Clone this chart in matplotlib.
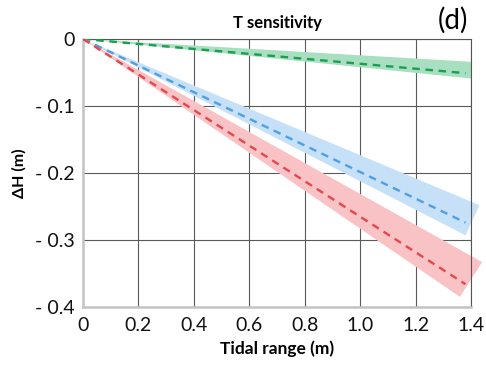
import numpy as np
import matplotlib.pyplot as plt

plt.rcParams['font.family'] = ['Lato', 'DejaVu Sans']

# tidal range (m) and sea-level change dH (m) along the dashed centre lines
tidal_range = [0.0, 1.38]
dh_green = [0.0, -0.051]
dh_blue = [0.0, -0.274]
dh_red = [0.0, -0.366]

# uncertainty bands: (x, y) of upper and lower corner at the far end
band_green = [(1.4, -0.034), (1.4, -0.059)]
band_blue = [(1.43, -0.248), (1.38, -0.293)]
band_red = [(1.44, -0.333), (1.36, -0.385)]

xticks = [0, 0.2, 0.4, 0.6, 0.8, 1.0, 1.2, 1.4]
xtick_labels = ['0', '0.2', '0.4', '0.6', '0.8', '1.0', '1.2', '1.4']
yticks = [0, -0.1, -0.2, -0.3, -0.4]
ytick_labels = ['0', '- 0.1', '- 0.2', '- 0.3', '- 0.4']

fig = plt.figure(figsize=(4.86, 3.70), dpi=100)
ax = fig.add_axes([0.1708, 0.1703, 0.7984, 0.7243])

series = [
    (dh_green, band_green, '#1b9e4f', '#a8dfc0'),
    (dh_blue, band_blue, '#4d9fe6', '#c6e0f8'),
    (dh_red, band_red, '#e5474b', '#f9c3c6'),
]
for dh, band, line_col, band_col in series:
    (xu, yu), (xl, yl) = band
    ax.fill([0, xu, xl], [0, yu, yl], color=band_col, lw=0, clip_on=False, zorder=2)
    ax.plot(tidal_range, dh, color=line_col, lw=1.7, dashes=(3.2, 2.4), zorder=3)

ax.set_xlim(0, 1.4)
ax.set_ylim(-0.4, 0)
ax.set_xticks(xticks)
ax.set_xticklabels(xtick_labels)
ax.set_yticks(yticks)
ax.set_yticklabels(ytick_labels)
ax.tick_params(length=0, labelsize=14, colors='#111111')
ax.tick_params(axis='y', pad=6)
ax.tick_params(axis='x', pad=7)

ax.grid(True, color='#5a5a5a', lw=0.8, zorder=1)
ax.set_axisbelow(True)
for side in ['top', 'right']:
    ax.spines[side].set_color('#555555')
    ax.spines[side].set_linewidth(0.8)
for side in ['left', 'bottom']:
    ax.spines[side].set_color('#c4c4c4')
    ax.spines[side].set_linewidth(1.8)

ax.set_xlabel('Tidal range (m)', fontsize=12.5, fontweight='bold', labelpad=5)
ax.set_ylabel('ΔH (m)', fontsize=11.5, fontweight='bold', labelpad=6)
fig.text(0.57, 0.937, 'T sensitivity', ha='center', va='center',
         fontsize=12, fontweight='bold')
fig.text(0.932, 0.945, '(d)', ha='center', va='center', fontsize=20)

fig.savefig('out.png', dpi=100)
